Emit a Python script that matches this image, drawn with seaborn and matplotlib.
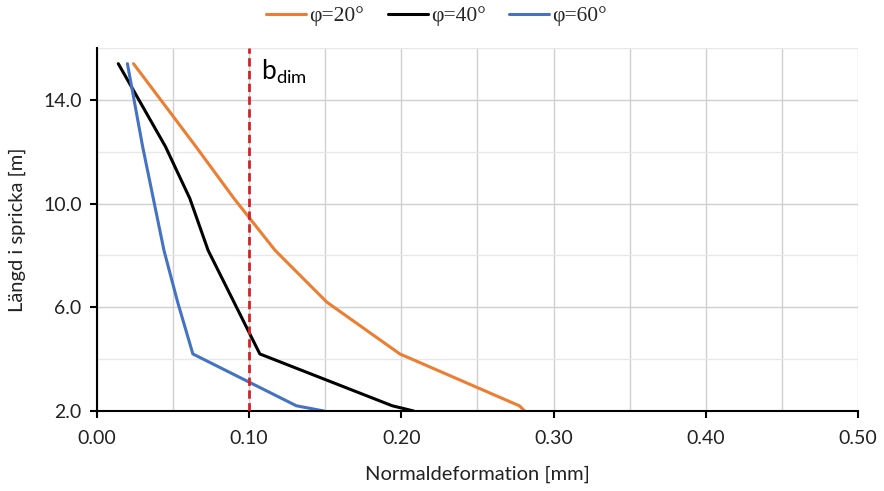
import matplotlib
matplotlib.use("Agg")
import matplotlib.pyplot as plt
import seaborn as sns
import pandas as pd
import numpy as np
from matplotlib.ticker import FixedLocator, FormatStrFormatter, MultipleLocator

# Data
length_m = [15.4, 12.2, 10.2, 8.2, 6.2, 4.2, 2.2, 2.0]
def_phi20 = [0.024, 0.065, 0.090, 0.117, 0.151, 0.199, 0.2775, 0.281]
def_phi40 = [0.014, 0.045, 0.061, 0.073, 0.090, 0.107, 0.194, 0.208]
def_phi60 = [0.020, 0.030, 0.037, 0.044, 0.053, 0.063, 0.131, 0.149]
series_labels = ["φ=20°", "φ=40°", "φ=60°"]
y_ticks = [2.0, 6.0, 10.0, 14.0]
y_minor = [4.0, 8.0, 12.0, 16.0]
b_dim = 0.10

frames = []
for lab, vals in zip(series_labels, [def_phi20, def_phi40, def_phi60]):
    frames.append(pd.DataFrame({"x": vals, "y": length_m, "serie": lab}))
df = pd.concat(frames, ignore_index=True)

sns.set_theme(style="white")
plt.rcParams['font.family'] = ['Lato', 'DejaVu Sans']

fig = plt.figure(figsize=(8.84, 4.91), dpi=100)
ax = fig.add_axes([0.1097, 0.163, 0.8609, 0.739])

palette = {"φ=20°": "#ED7D31", "φ=40°": "#000000", "φ=60°": "#4472C4"}
sns.lineplot(data=df, x="x", y="y", hue="serie", palette=palette, sort=False,
             estimator=None, units="serie", linewidth=2.2, ax=ax, legend=False)

ax.axvline(b_dim, color="#D0232A", linestyle=(0, (3, 1.6)), linewidth=2.0, zorder=3)
ax.text(0.108, 15.1, r"$\mathregular{b_{dim}}$", fontsize=19, color="black",
        va="center", ha="left")

ax.set_xlim(0, 0.5)
ax.set_ylim(2, 16)
ax.xaxis.set_major_locator(MultipleLocator(0.1))
ax.xaxis.set_minor_locator(MultipleLocator(0.05))
ax.yaxis.set_major_locator(FixedLocator(y_ticks))
ax.yaxis.set_minor_locator(FixedLocator(y_minor))
ax.xaxis.set_major_formatter(FormatStrFormatter("%.2f"))
ax.yaxis.set_major_formatter(FormatStrFormatter("%.1f"))

ax.grid(True, which="major", color="#D0D0D0", linewidth=1.0)
ax.grid(True, which="minor", axis="x", color="#D0D0D0", linewidth=1.0)
ax.grid(True, which="minor", axis="y", color="#E8E8E8", linewidth=1.0)
ax.set_axisbelow(True)

for s in ["top", "right"]:
    ax.spines[s].set_visible(False)
for s in ["left", "bottom"]:
    ax.spines[s].set_color("black")
    ax.spines[s].set_linewidth(1.5)

ax.tick_params(axis="both", which="major", direction="out", length=5, width=1.5,
               color="black", labelsize=14, labelcolor="#222222", left=True, bottom=True)
ax.tick_params(axis="x", which="major", pad=9)
ax.tick_params(axis="y", which="major", pad=6)
ax.tick_params(axis="both", which="minor", length=0)

ax.set_xlabel("Normaldeformation [mm]", fontsize=14.5, color="#222222", labelpad=13)
ax.set_ylabel("Längd i spricka [m]", fontsize=14.5, color="#222222", labelpad=12)

handles = [plt.Line2D([0], [0], color=palette[l], linewidth=2.2) for l in series_labels]
fig.legend(handles, series_labels, loc="center", bbox_to_anchor=(0.494, 0.967), ncol=3,
           frameon=False, prop={"family": "Liberation Serif", "size": 15.5},
           handlelength=1.85, handletextpad=0.15, columnspacing=1.1)

fig.savefig("out.png", dpi=100)
